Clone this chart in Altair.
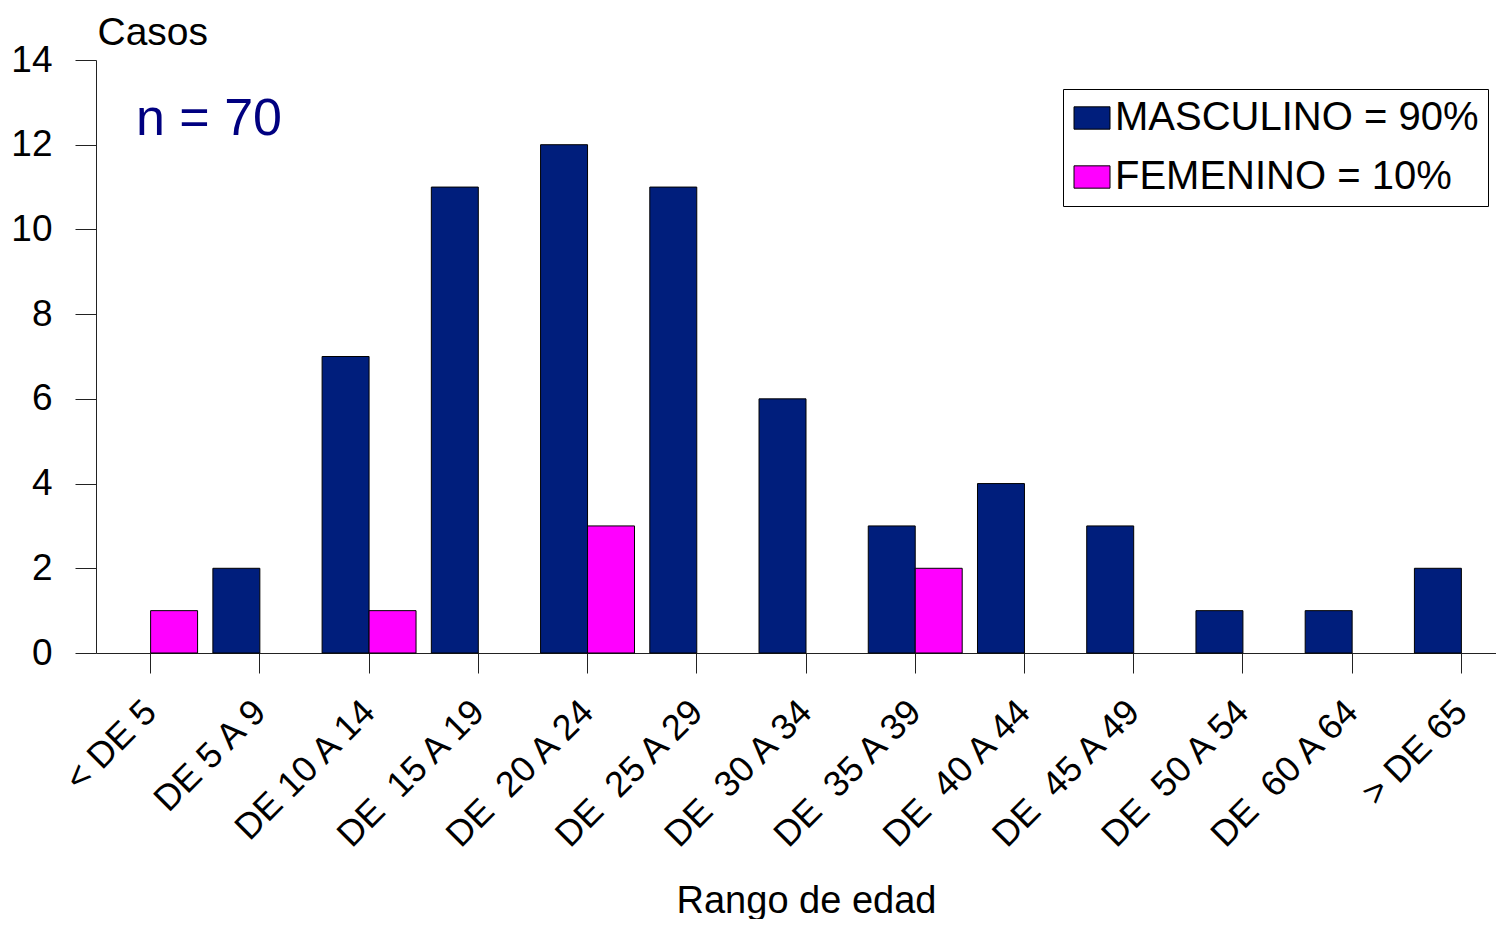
import altair as alt
import pandas as pd

NB = "\u00a0"
categorias = ["< DE 5", "DE 5 A 9", "DE 10 A 14", "DE" + NB + " 15 A 19", "DE" + NB + " 20 A 24",
              "DE" + NB + " 25 A 29", "DE" + NB + " 30 A 34", "DE" + NB + " 35 A 39", "DE" + NB + " 40 A 44",
              "DE" + NB + " 45 A 49", "DE" + NB + " 50 A 54", "DE" + NB + " 60 A 64", "> DE 65"]
masculino = [0, 2, 7, 11, 12, 11, 6, 3, 4, 3, 1, 1, 2]
femenino = [1, 0, 1, 0, 3, 0, 0, 2, 0, 0, 0, 0, 0]
series = ["MASCULINO = 90%", "FEMENINO = 10%"]
colores = ["#001E7C", "#FF00FF"]
y_ticks = [0, 2, 4, 6, 8, 10, 12, 14]

rows = []
for c, m, f in zip(categorias, masculino, femenino):
    rows.append({"Rango": c, "Sexo": series[0], "Casos": m})
    rows.append({"Rango": c, "Sexo": series[1], "Casos": f})
df = pd.DataFrame(rows)

FONT = "Liberation Sans"

bars = alt.Chart(df).transform_filter(alt.datum.Casos > 0).mark_bar(
    stroke="black", strokeWidth=1
).encode(
    x=alt.X("Rango:N", sort=categorias,
            scale=alt.Scale(domain=categorias, range=[0, 1420], paddingInner=0.14, paddingOuter=0.07),
            axis=alt.Axis(title="Rango de edad", labelAngle=-45, labelAlign="right",
                          labelBaseline="middle", labelFontSize=36, labelFont=FONT,
                          labelColor="black", labelLimit=400, labelPadding=33,
                          tickSize=20, tickColor="#222", domainColor="#222",
                          titleFontSize=38, titleFont=FONT, titleFontWeight="normal",
                          titleColor="black", titleY=259, titleBaseline="alphabetic",
                          labelOverlap=False, grid=False)),
    xOffset=alt.XOffset("Sexo:N", sort=series,
                        scale=alt.Scale(domain=series, paddingInner=0, paddingOuter=0)),
    y=alt.Y("Casos:Q", scale=alt.Scale(domain=[0, 14], nice=False),
            axis=alt.Axis(title="Casos", values=y_ticks, titleAngle=0, titleAlign="left",
                          titleBaseline="alphabetic", titleX=1, titleY=-16,
                          titleFontSize=39, titleFont=FONT, titleFontWeight="normal",
                          titleColor="black", labelFontSize=37, labelFont=FONT,
                          labelColor="black", labelPadding=23, tickSize=21,
                          tickColor="#222", domainColor="#222", grid=False)),
    color=alt.Color("Sexo:N", sort=series,
                    scale=alt.Scale(domain=series, range=colores),
                    legend=alt.Legend(title=None, orient="none", legendX=967, legendY=29,
                                      strokeColor="black", fillColor="white", padding=9,
                                      labelFontSize=40, labelFont=FONT, labelColor="black",
                                      labelLimit=600, labelOffset=3, rowPadding=19,
                                      symbolType="M-1,-0.62H1V0.62H-1Z", symbolSize=1296,
                                      symbolStrokeColor="black", symbolStrokeWidth=1,
                                      symbolOpacity=1)),
)

nota = alt.Chart(pd.DataFrame({"t": ["n = 70"]})).mark_text(
    align="left", baseline="alphabetic", fontSize=52, font=FONT, color="#000080"
).encode(text="t:N", x=alt.value(40), y=alt.value(75))

chart = alt.layer(bars, nota).properties(
    width=1400, height=593,
    autosize=alt.AutoSizeParams(type="none"),
    padding={"left": 88, "top": 52, "right": 0, "bottom": 266},
).configure(background="white").configure_view(stroke=None)

chart.save("out.html", embed_options={"renderer": "svg", "actions": False})
